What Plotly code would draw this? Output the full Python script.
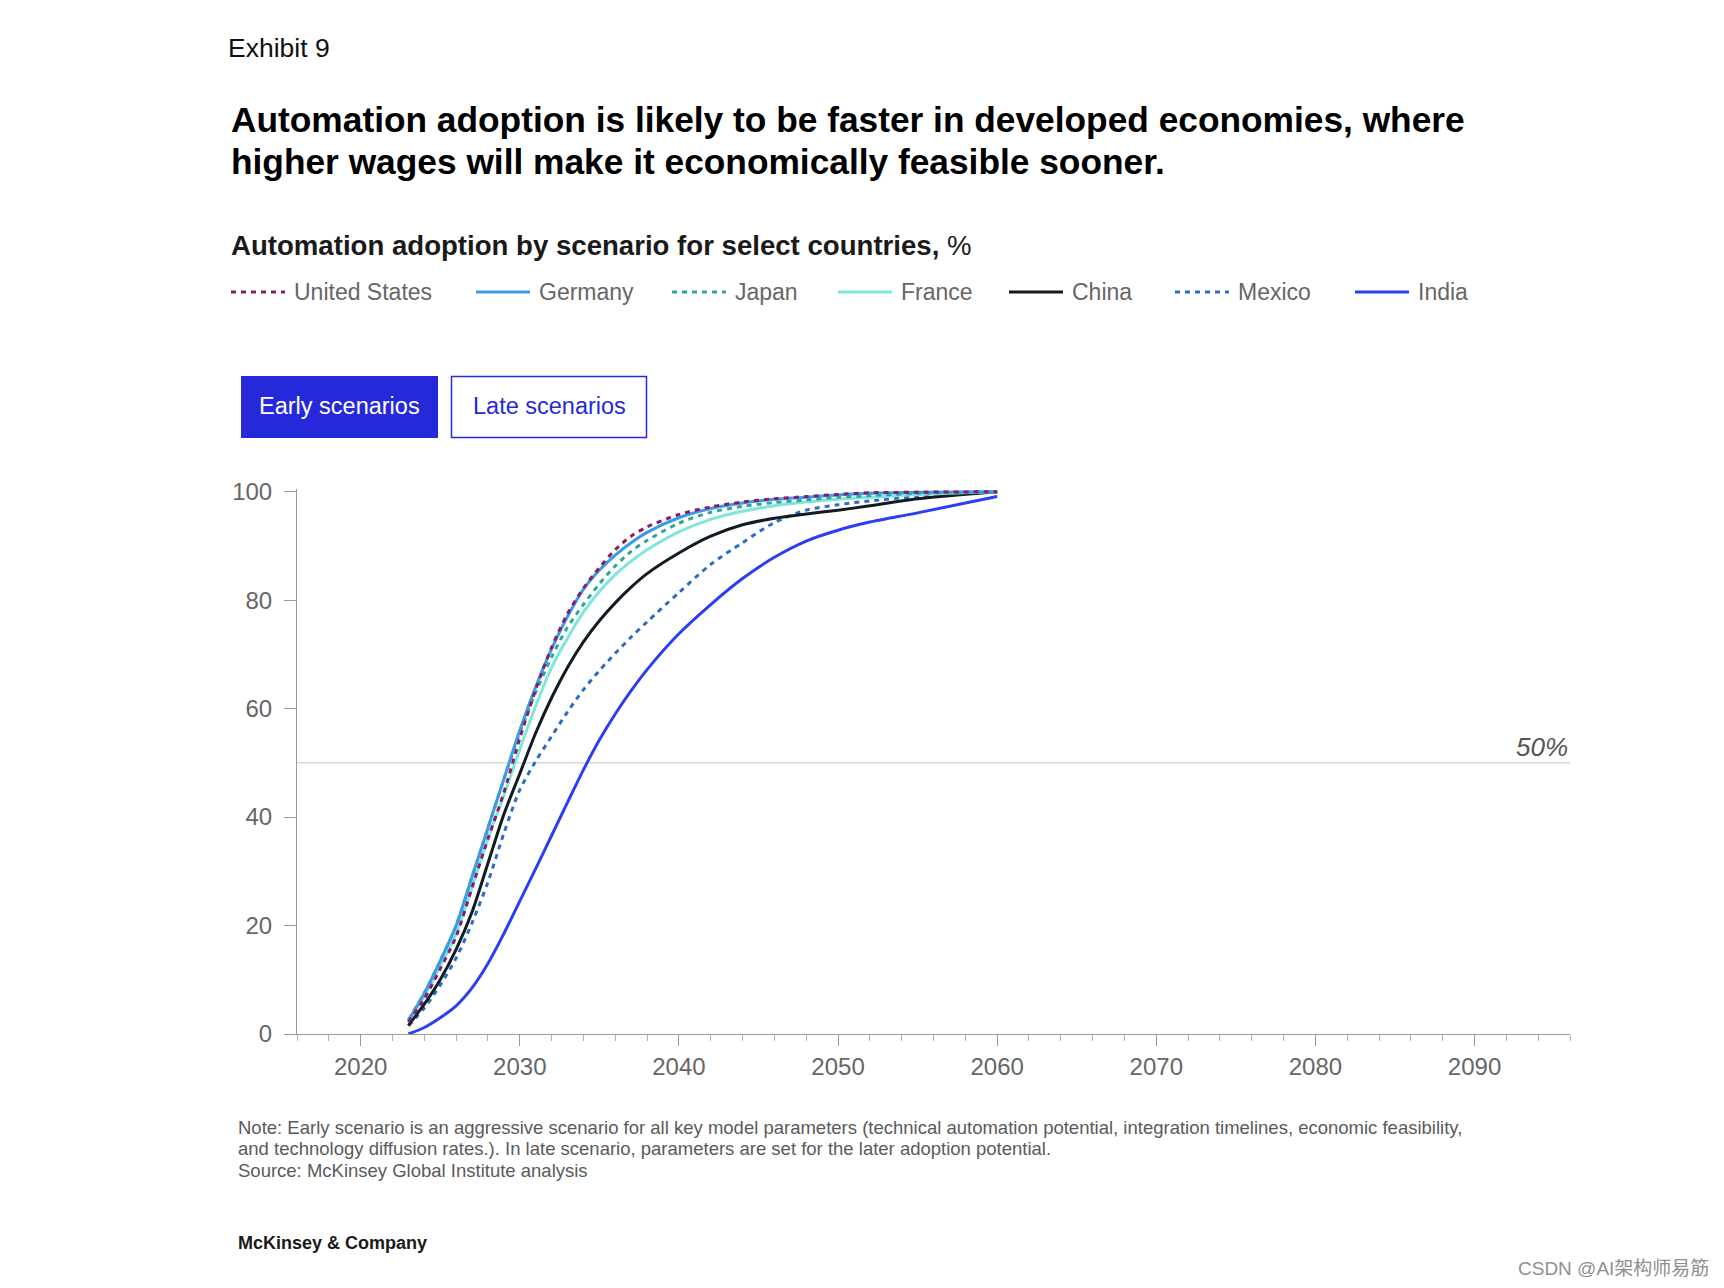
import plotly.graph_objects as go

# ---------------- data ----------------
YEARS = [2023, 2024, 2025, 2026, 2027, 2028, 2029, 2030, 2031, 2032, 2033, 2034, 2035,
         2036, 2037, 2038, 2040, 2042, 2044, 2046, 2048, 2050, 2052, 2055, 2060]

UNITED_STATES = [2.2, 6.5, 12, 18, 27, 36, 44.5, 54.5, 63.5, 71.3, 77.5, 82.2, 86,
                 89.3, 91.8, 93.5, 95.8, 97.2, 98.1, 98.7, 99.1, 99.5, 99.8, 99.9, 100]
GERMANY = [2.5, 7.5, 13.5, 20, 29, 38, 47, 56, 64, 71, 77, 82, 85.5,
           88.3, 90.6, 92.5, 95.2, 96.9, 97.9, 98.6, 99.0, 99.4, 99.7, 99.9, 100]
JAPAN = [2.6, 7.6, 13.5, 20, 29, 38, 47, 55.5, 63, 69.5, 75, 79.2, 83,
         86.3, 89.0, 91, 94.2, 96.2, 97.3, 98.0, 98.5, 99.0, 99.3, 99.7, 100]
FRANCE = [2.4, 7, 12.5, 18.5, 27, 36, 44, 52.5, 60.5, 67.6, 73, 77.8, 81.6,
          84.7, 87.2, 89.3, 92.6, 94.9, 96.4, 97.4, 98.1, 98.6, 99.0, 99.5, 100]
CHINA = [1.6, 5.5, 10, 15.6, 22.5, 31.5, 40.5, 48, 55.5, 62, 67.6, 72.3, 76.2,
         79.5, 82.4, 84.9, 88.7, 91.8, 93.9, 95.1, 95.9, 96.6, 97.4, 98.7, 100]
MEXICO = [1.5, 4.8, 9, 14, 20.5, 28, 37, 45, 50.3, 54.9, 59.4, 63.5, 67,
          70.2, 73.2, 76, 81.4, 86.6, 90.6, 94.3, 96.6, 97.6, 98.3, 99.1, 100]
INDIA = [0, 1.2, 3, 5.2, 8.5, 13, 18.5, 24.5, 30.5, 36.6, 42.7, 48.7, 54.2,
         59.0, 63.3, 67.2, 73.8, 79.2, 84.0, 87.9, 90.9, 92.9, 94.4, 96.1, 99.1]

COUNTRIES = ["United States", "Germany", "Japan", "France", "China", "Mexico", "India"]
SERIES = [UNITED_STATES, GERMANY, JAPAN, FRANCE, CHINA, MEXICO, INDIA]

X_TICKS = [2020, 2030, 2040, 2050, 2060, 2070, 2080, 2090]
Y_TICKS = [0, 20, 40, 60, 80, 100]

# ---------------- styles ----------------
COLORS = ["#8b1d63", "#3c9be8", "#2fa69a", "#7fe6dc", "#111b24", "#2d6cc6", "#2b3ff2"]
DASHES = ["5px,5px", "solid", "5px,5px", "solid", "solid", "5px,5px", "solid"]
DRAW_ORDER = [6, 5, 4, 3, 2, 1, 0]

W, H = 1724, 1288
ML, MR, MT, MB = 297, 154, 489, 254
PW, PH = W - ML - MR, H - MT - MB


def px(x):
    return (x - ML) / PW


def py(y):
    return (H - MB - y) / PH


FONT = "Liberation Sans, Arial, sans-serif"
BLUE_BTN = "#2529d9"

fig = go.Figure()
for i in DRAW_ORDER:
    fig.add_trace(go.Scatter(
        x=YEARS, y=SERIES[i], name=COUNTRIES[i], mode="lines",
        line=dict(color=COLORS[i], width=3, dash=DASHES[i], shape="spline", smoothing=0.8),
        showlegend=False, hoverinfo="x+y+name",
    ))

shapes = []
annotations = []

# 50% reference line
shapes.append(dict(type="line", xref="paper", yref="y", x0=0, x1=1, y0=50, y1=50,
                   line=dict(color="#d9d9d9", width=1.5), layer="below"))
annotations.append(dict(xref="paper", yref="y", x=1, y=50, xanchor="right", yanchor="bottom",
                        yshift=-1, showarrow=False, text="<i>50%</i>",
                        font=dict(family=FONT, size=26, color="#555555")))

# Header texts
annotations.append(dict(xref="paper", yref="paper", x=px(226), y=py(48), xanchor="left",
                        yanchor="middle", showarrow=False, text="Exhibit 9",
                        font=dict(family=FONT, size=26.5, color="#111111")))
annotations.append(dict(xref="paper", yref="paper", x=px(229), y=py(119), xanchor="left",
                        yanchor="middle", showarrow=False,
                        text="<b>Automation adoption is likely to be faster in developed economies, where</b>",
                        font=dict(family=FONT, size=35.3, color="#000000")))
annotations.append(dict(xref="paper", yref="paper", x=px(229), y=py(162), xanchor="left",
                        yanchor="middle", showarrow=False,
                        text="<b>higher wages will make it economically feasible sooner.</b>",
                        font=dict(family=FONT, size=35.3, color="#000000")))
annotations.append(dict(xref="paper", yref="paper", x=px(229), y=py(246), xanchor="left",
                        yanchor="middle", showarrow=False,
                        text="<b>Automation adoption by scenario for select countries,</b> %",
                        font=dict(family=FONT, size=27.6, color="#1a1a1a")))

# Custom legend
LEG_X = [231, 476, 672, 838, 1009, 1175, 1355]
LEG_Y = 292
for i, name in enumerate(COUNTRIES):
    shapes.append(dict(type="line", xref="paper", yref="paper",
                       x0=px(LEG_X[i]), x1=px(LEG_X[i] + 54), y0=py(LEG_Y), y1=py(LEG_Y),
                       line=dict(color=COLORS[i], width=3, dash=DASHES[i])))
    annotations.append(dict(xref="paper", yref="paper", x=px(LEG_X[i] + 61), y=py(LEG_Y),
                            xanchor="left", yanchor="middle", showarrow=False, text=name,
                            font=dict(family=FONT, size=23, color="#666666")))

# Scenario buttons
shapes.append(dict(type="rect", xref="paper", yref="paper", x0=px(241), x1=px(438),
                   y0=py(438), y1=py(376), fillcolor=BLUE_BTN, line=dict(width=0)))
shapes.append(dict(type="rect", xref="paper", yref="paper", x0=px(451.5), x1=px(646.5),
                   y0=py(437.5), y1=py(376.5), fillcolor="white",
                   line=dict(color=BLUE_BTN, width=1.5)))
annotations.append(dict(xref="paper", yref="paper", x=px(339.5), y=py(406), xanchor="center",
                        yanchor="middle", showarrow=False, text="Early scenarios",
                        font=dict(family=FONT, size=23.5, color="white")))
annotations.append(dict(xref="paper", yref="paper", x=px(549), y=py(406), xanchor="center",
                        yanchor="middle", showarrow=False, text="Late scenarios",
                        font=dict(family=FONT, size=23.5, color=BLUE_BTN)))

# Notes
NOTES = [
    "Note: Early scenario is an aggressive scenario for all key model parameters (technical automation potential, integration timelines, economic feasibility,",
    "and technology diffusion rates.). In late scenario, parameters are set for the later adoption potential.",
    "Source: McKinsey Global Institute analysis",
]
NOTE_Y = [1127, 1148.5, 1170]
for t, yy in zip(NOTES, NOTE_Y):
    annotations.append(dict(xref="paper", yref="paper", x=px(236), y=py(yy), xanchor="left",
                            yanchor="middle", showarrow=False, text=t,
                            font=dict(family=FONT, size=18.5, color="#5a5a5a")))
annotations.append(dict(xref="paper", yref="paper", x=px(236), y=py(1243), xanchor="left",
                        yanchor="middle", showarrow=False, text="<b>McKinsey &amp; Company</b>",
                        font=dict(family=FONT, size=18, color="#1a1a1a")))
annotations.append(dict(xref="paper", yref="paper", x=px(1711), y=py(1268), xanchor="right",
                        yanchor="middle", showarrow=False, text="CSDN @AI架构师易筋",
                        font=dict(family="Liberation Sans, Noto Sans CJK SC, sans-serif", size=19,
                                  color="#8f8f8f")))

fig.update_layout(
    width=W, height=H,
    margin=dict(l=ML, r=MR, t=MT, b=MB, pad=0),
    paper_bgcolor="white", plot_bgcolor="white",
    font=dict(family=FONT, color="#666666"),
    shapes=shapes, annotations=annotations,
    xaxis=dict(range=[2016, 2096], tickvals=X_TICKS, ticktext=[str(v) for v in X_TICKS],
               showgrid=False, zeroline=False, showline=True, linecolor="#9a9a9a", linewidth=1,
               ticks="outside", ticklen=11, tickcolor="#9a9a9a", tickwidth=1,
               ticklabelstandoff=0,
               tickfont=dict(family=FONT, size=24, color="#666666"),
               minor=dict(dtick=2, tick0=2016, ticks="outside", ticklen=6,
                          tickcolor="#b5b5b5", tickwidth=1, showgrid=False)),
    yaxis=dict(range=[0, 100.5], tickvals=Y_TICKS, ticktext=[str(v) for v in Y_TICKS],
               showgrid=False, zeroline=False, showline=True, linecolor="#9a9a9a", linewidth=1,
               ticks="outside", ticklen=12, tickcolor="#9a9a9a", tickwidth=1,
               ticklabelstandoff=7,
               tickfont=dict(family=FONT, size=24, color="#666666")),
)

fig.write_html("out.html")
